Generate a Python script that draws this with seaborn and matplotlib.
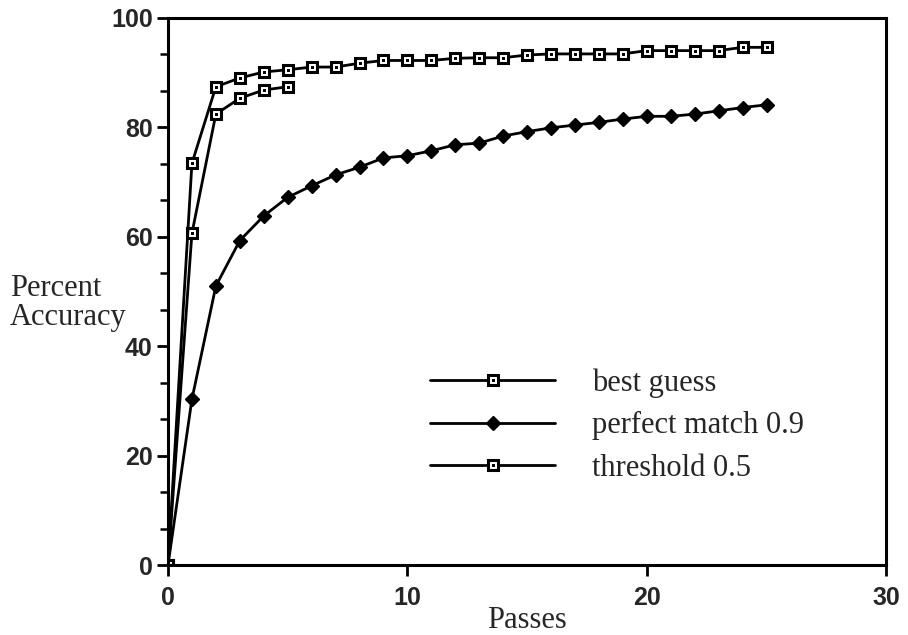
import matplotlib
matplotlib.use("Agg")
import matplotlib.pyplot as plt
from matplotlib.legend_handler import HandlerTuple
from matplotlib.ticker import AutoMinorLocator
import seaborn as sns

sns.set_theme(style="ticks")
plt.rcParams['font.family'] = ['Liberation Serif', 'DejaVu Serif']

# values
passes = [0, 1, 2, 3, 4, 5, 6, 7, 8, 9, 10, 11, 12, 13, 14, 15, 16, 17, 18, 19, 20, 21, 22, 23, 24, 25]
best_guess = [0, 73.4, 87.4, 89.0, 90.1, 90.5, 91.0, 91.0, 91.7, 92.2, 92.2, 92.2, 92.6,
              92.7, 92.7, 93.2, 93.4, 93.4, 93.4, 93.4, 94.0, 94.0, 94.0, 94.0, 94.6, 94.6]
perfect_match = [0, 30.3, 51.0, 59.3, 63.8, 67.2, 69.3, 71.3, 72.7, 74.4, 74.8, 75.7, 76.8,
                 77.1, 78.4, 79.2, 79.9, 80.4, 80.9, 81.5, 82.0, 82.0, 82.4, 83.0, 83.6, 84.1]
threshold_passes = [0, 1, 2, 3, 4, 5]
threshold = [0, 60.6, 82.4, 85.3, 86.8, 87.4]

labels = ["best guess", "perfect match 0.9", "threshold 0.5"]
x_ticks = [0, 10, 20, 30]
y_ticks = [0, 20, 40, 60, 80, 100]

fig = plt.figure(figsize=(9.08, 6.35), dpi=100)
ax = fig.add_axes([0.185, 0.110, 0.791, 0.862])

lw = 2.0
sq = dict(marker="s", ms=7, mfc="white", mec="black", mew=2.2)
dot = dict(ls="none", marker="s", ms=2.2, color="black")

sns.lineplot(x=threshold_passes, y=threshold, ax=ax, color="black", lw=lw,
             estimator=None, **sq)
l3 = ax.lines[-1]
sns.lineplot(x=threshold_passes, y=threshold, ax=ax, estimator=None, **dot)
d3 = ax.lines[-1]

sns.lineplot(x=passes, y=perfect_match, ax=ax, color="black", lw=lw, estimator=None,
             marker="D", ms=6.8, mfc="black", mec="black", mew=1)
l2 = ax.lines[-1]

sns.lineplot(x=passes, y=best_guess, ax=ax, color="black", lw=lw, estimator=None, **sq)
l1 = ax.lines[-1]
sns.lineplot(x=passes, y=best_guess, ax=ax, estimator=None, **dot)
d1 = ax.lines[-1]

ax.set_xlim(0, 30)
ax.set_ylim(0, 100)
ax.set_xticks(x_ticks)
ax.set_yticks(y_ticks)
ax.yaxis.set_minor_locator(AutoMinorLocator(3))
ax.grid(False)
for s in ax.spines.values():
    s.set_visible(True)
    s.set_linewidth(2.2)
    s.set_color("black")

ax.tick_params(axis="both", which="major", direction="out", length=8, width=2, color="black")
ax.tick_params(axis="y", which="minor", direction="out", length=6, width=1.8, color="black")
ax.tick_params(axis="x", pad=7)
ax.tick_params(axis="y", pad=3)
for t in ax.get_xticklabels() + ax.get_yticklabels():
    t.set_fontfamily("Liberation Sans")
    t.set_fontweight("bold")
    t.set_fontsize(18)

ax.set_xlabel("Passes", fontsize=22)
ax.xaxis.set_label_coords(0.5, -0.075)
ax.set_ylabel("Percent\nAccuracy", fontsize=22, rotation=0, ha="left", va="center",
              multialignment="left", linespacing=1.0)
ax.yaxis.set_label_coords(-0.22, 0.479)

leg = ax.legend([(l1, d1), l2, (l3, d3)], labels, loc="upper left",
                bbox_to_anchor=(0.365, 0.36), frameon=False, handlelength=4.1,
                handletextpad=1.2, labelspacing=0.45, borderpad=0, borderaxespad=0,
                fontsize=22, numpoints=1, handler_map={tuple: HandlerTuple(ndivide=1)})

fig.savefig("out.png", dpi=100)
